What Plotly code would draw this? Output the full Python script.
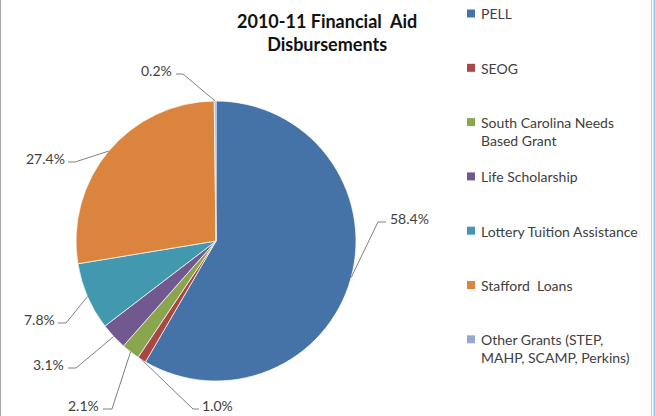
import math
import plotly.graph_objects as go

# ---- data ----
categories = ["PELL", "SEOG", "South Carolina Needs Based Grant", "Life Scholarship",
              "Lottery Tuition Assistance", "Stafford  Loans",
              "Other Grants (STEP, MAHP, SCAMP, Perkins)"]
legend_text = ["PELL", "SEOG", "South Carolina Needs<br>Based Grant", "Life Scholarship",
               "Lottery Tuition Assistance", "Stafford\u00a0 Loans",
               "Other Grants (STEP,<br>MAHP, SCAMP, Perkins)"]
values = [58.4, 1.0, 2.1, 3.1, 7.8, 27.4, 0.2]
colors = ["#4572A7", "#AA4643", "#89A54E", "#71588F", "#4198AF", "#DB843D", "#93A9CF"]

W, H = 656, 416
CX, CY, R = 216, 241, 140  # pie center / radius in pixels

def px(x):
    return x / W

def py(y):
    return 1 - y / H

# label layout (pixel positions of label text and leader elbow)
label_pos = [  # (text x, text y, anchor, elbow x, elbow end x)
    (388, 218, "left", 378, 386),
    (200, 405, "left", 193, 199),
    (101, 405, "right", 112, 103),
    (66, 364, "right", 76, 68),
    (57, 319, "right", 66, 58),
    (67, 158, "right", 75, 68),
    (174, 70, "right", 183, 176),
]

fig = go.Figure()
fig.add_trace(go.Pie(
    labels=categories, values=values, sort=False, direction="clockwise", rotation=0,
    marker=dict(colors=colors, line=dict(color="rgba(255,255,255,0.7)", width=1)),
    textinfo="none", showlegend=False, hoverinfo="label+percent",
    domain=dict(x=[px(CX - R), px(CX + R)], y=[py(CY + R), py(CY - R)]),
))

shapes = []
annotations = []
total = sum(values)
cum = 0
for i, v in enumerate(values):
    mid = (cum + v / 2) / total * 2 * math.pi
    cum += v
    ex = CX + R * math.sin(mid)
    ey = CY - R * math.cos(mid)
    tx, ty, anc, elx, elend = label_pos[i]
    ly = ty + 4
    shapes.append(dict(type="line", xref="paper", yref="paper",
                       x0=px(ex), y0=py(ey), x1=px(elx), y1=py(ly),
                       line=dict(color="#808080", width=1)))
    shapes.append(dict(type="line", xref="paper", yref="paper",
                       x0=px(elx), y0=py(ly), x1=px(elend), y1=py(ly),
                       line=dict(color="#808080", width=1)))
    annotations.append(dict(xref="paper", yref="paper", x=px(tx), y=py(ty),
                            xanchor=anc, yanchor="middle", showarrow=False,
                            text=f"{v:.1f}%",
                            font=dict(family="Lato", size=14, color="#404040")))

# legend (manual, to match spacing)
for i, name in enumerate(legend_text):
    yc = 13.5 + i * 54.3
    shapes.append(dict(type="rect", xref="paper", yref="paper",
                       x0=px(467), x1=px(475), y0=py(yc - 4), y1=py(yc + 4),
                       fillcolor=colors[i], line=dict(width=0)))
    annotations.append(dict(xref="paper", yref="paper", x=px(479), y=py(yc - 10.1),
                            xanchor="left", yanchor="top", align="left", showarrow=False,
                            text=name,
                            font=dict(family="Lato", size=14, color="#404040")))

# title
annotations.append(dict(xref="paper", yref="paper", x=px(327), y=py(32.5),
                        xanchor="center", yanchor="middle", showarrow=False,
                        text="<b>2010-11 Financial\u00a0 Aid<br>Disbursements</b>",
                        font=dict(family="Lato", size=18, color="#111111")))

# frame lines
shapes.append(dict(type="line", xref="paper", yref="paper", x0=px(0.5), x1=px(0.5), y0=0, y1=1,
                   line=dict(color="#a6a6a6", width=1)))
shapes.append(dict(type="line", xref="paper", yref="paper", x0=px(651.5), x1=px(651.5), y0=0, y1=1,
                   line=dict(color="#c8c8c8", width=1)))
shapes.append(dict(type="line", xref="paper", yref="paper", x0=px(654.5), x1=px(654.5), y0=0, y1=1,
                   line=dict(color="#9cc3ec", width=2)))

fig.update_layout(width=W, height=H, margin=dict(l=0, r=0, t=0, b=0),
                  paper_bgcolor="white", plot_bgcolor="white",
                  shapes=shapes, annotations=annotations, showlegend=False)
fig.write_html("out.html", config={"displayModeBar": False},
               post_script="document.body.style.margin='0';document.body.style.overflow='hidden';")
